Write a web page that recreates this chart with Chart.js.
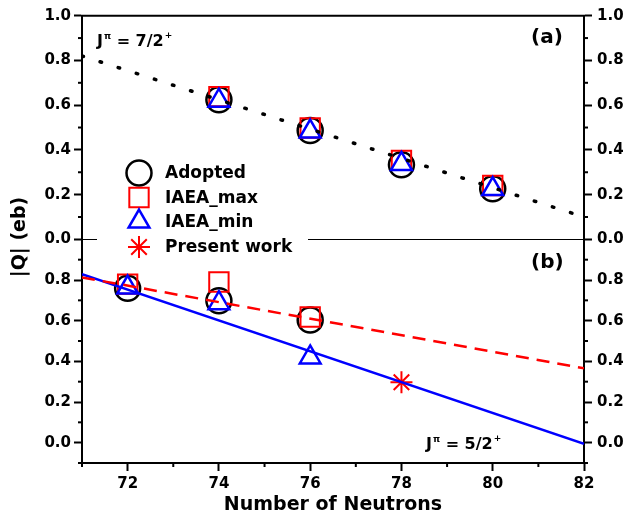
<!DOCTYPE html>
<html><head><meta charset="utf-8">
<script src="https://cdn.jsdelivr.net/npm/chart.js@4.4.0/dist/chart.umd.min.js"></script>
<style>html,body{margin:0;padding:0;background:#fff}#wrap{width:627px;height:519px;position:relative}</style>
</head><body><div id="wrap"><canvas id="c" width="627" height="519"></canvas></div>
<script>
// ---- axis tick labels ----
const neutronTicks = [72, 74, 76, 78, 80, 82];
const yTicksA = [0.0, 0.2, 0.4, 0.6, 0.8, 1.0];
const yTicksB = [0.0, 0.2, 0.4, 0.6, 0.8];

// ---- panel (a): J = 7/2+ ----
const neutronsA = [74, 76, 78, 80];
const adoptedA = [0.624, 0.487, 0.333, 0.226];
const iaeaMaxA = [0.638, 0.498, 0.353, 0.241];
const iaeaMinA = [0.620, 0.482, 0.337, 0.225];
const trendAx = [71, 82];
const trendAy = [0.82, 0.10];

// ---- panel (b): J = 5/2+ ----
const neutronsB = [72, 74, 76];
const adoptedB = [0.759, 0.698, 0.603];
const iaeaMaxB = [0.780, 0.790, 0.618];
const iaeaMinB = [0.763, 0.686, 0.419];
const presentN = [78];
const presentB = [0.297];
const trendMaxBx = [71, 82];
const trendMaxBy = [0.813, 0.366];
const trendMinBx = [71, 82];
const trendMinBy = [0.829, -0.006];

const FONT = "'DejaVu Sans', sans-serif";
const RED = '#ff0000', BLUE = '#0000ff', BLACK = '#000000';
const pts = (xs, ys) => xs.map((x, i) => ({x: x, y: ys[i]}));

const markerStyles = {
  adopted: {pointStyle: 'circle', pointRadius: 12.5, borderColor: BLACK, pointBorderWidth: 2.5},
  max: {pointStyle: 'rect', pointRadius: 13.7, borderColor: RED, pointBorderWidth: 2},
  min: {pointStyle: 'triangle', pointRadius: 12, borderColor: BLUE, pointBorderWidth: 2.5},
  present: {pointStyle: 'star', pointRadius: 11, borderColor: RED, pointBorderWidth: 2}
};
function markerSet(label, key, data, yAxisID, order) {
  const s = markerStyles[key];
  return Object.assign({label: label, data: data, yAxisID: yAxisID, xAxisID: 'x', showLine: false,
    backgroundColor: 'rgba(0,0,0,0)', pointBackgroundColor: 'rgba(0,0,0,0)', pointBorderColor: s.borderColor,
    order: order, legendKey: key}, s);
}
function lineSet(data, yAxisID, color, width, dash, cap) {
  return {label: 'fit', data: data, yAxisID: yAxisID, xAxisID: 'x', showLine: true, pointRadius: 0,
    borderColor: color, borderWidth: width, borderDash: dash, borderCapStyle: cap || 'butt',
    fill: false, order: 0, tension: 0};
}

const datasets = [
  lineSet(pts(trendAx, trendAy), 'yA', BLACK, 3.5, [1.5, 17.5], 'round'),
  lineSet(pts(trendMaxBx, trendMaxBy), 'yB', RED, 2.5, [13, 8]),
  lineSet(pts(trendMinBx, trendMinBy), 'yB', BLUE, 2.5, []),
  markerSet('Adopted', 'adopted', pts(neutronsA, adoptedA), 'yA', 4),
  markerSet('IAEA_max', 'max', pts(neutronsA, iaeaMaxA), 'yA', 3),
  markerSet('IAEA_min', 'min', pts(neutronsA, iaeaMinA), 'yA', 2),
  markerSet('Adopted', 'adopted', pts(neutronsB, adoptedB), 'yB', 4),
  markerSet('IAEA_max', 'max', pts(neutronsB, iaeaMaxB), 'yB', 3),
  markerSet('IAEA_min', 'min', pts(neutronsB, iaeaMinB), 'yB', 2),
  markerSet('Present work', 'present', pts(presentN, presentB), 'yB', 1)
];

const tickFont = {family: FONT, size: 15, weight: 'bold'};
function yScale(pos, stack, weight, min, max, tickVals, showLabels) {
  return {
    type: 'linear', position: pos, stack: stack, stackWeight: 1, weight: weight,
    min: min, max: max,
    afterBuildTicks: s => { s.ticks = tickVals.map(v => ({value: v})); },
    afterFit: s => { s.width = pos === 'left' ? 82 : 43; },
    ticks: {font: tickFont, color: BLACK, padding: pos === 'left' ? 3 : 5, autoSkip: false,
      callback: v => v.toFixed(1)},
    grid: {display: true, drawOnChartArea: false, drawTicks: true, tickLength: 8, tickWidth: 2, tickColor: BLACK},
    border: {display: true, color: BLACK, width: 2}
  };
}

function midTicks(vals, min, max) {
  const out = [];
  for (let i = 0; i < vals.length - 1; i++) out.push((vals[i] + vals[i + 1]) / 2);
  const step = vals[1] - vals[0];
  const lo = vals[0] - step / 2, hi = vals[vals.length - 1] + step / 2;
  if (lo >= min - 1e-9) out.push(lo);
  if (hi <= max + 1e-9) out.push(hi);
  return out;
}

function drawJ(ctx, x, y, frac) {
  ctx.fillStyle = BLACK;
  ctx.textAlign = 'left';
  ctx.textBaseline = 'alphabetic';
  ctx.font = 'bold 16px ' + FONT;
  ctx.fillText('J', x, y);
  let cx = x + ctx.measureText('J').width + 1;
  ctx.font = 'bold 9px ' + FONT;
  ctx.fillText('\u03c0', cx, y - 7);
  cx += ctx.measureText('\u03c0').width;
  ctx.font = 'bold 16px ' + FONT;
  const t = ' = ' + frac;
  ctx.fillText(t, cx, y);
  cx += ctx.measureText(t).width + 1;
  ctx.font = 'bold 9px ' + FONT;
  ctx.fillText('+', cx, y - 8);
}

const decor = {
  id: 'decor',
  beforeDatasetsDraw(chart) {
    const ctx = chart.ctx, a = chart.chartArea;
    const yA = chart.scales.yA;
    ctx.save();
    ctx.strokeStyle = BLACK;
    ctx.lineWidth = 1.2;
    const y0 = Math.round(yA.getPixelForValue(0)) + 0.5;
    ctx.beginPath(); ctx.moveTo(a.left, y0); ctx.lineTo(a.right, y0); ctx.stroke();
    // white legend background interrupts the zero line
    ctx.fillStyle = '#ffffff';
    ctx.fillRect(97, y0 - 3, 211, 6);
    // top frame
    ctx.lineWidth = 2;
    ctx.beginPath(); ctx.moveTo(a.left - 1, a.top); ctx.lineTo(a.right + 1, a.top); ctx.stroke();
    ctx.restore();
  },
  afterDraw(chart) {
    const ctx = chart.ctx;
    ctx.save();
    ctx.strokeStyle = BLACK;
    ctx.lineWidth = 2;
    // minor ticks
    const yDefs = [['yA', yTicksA, -1], ['yB', yTicksB, -1], ['rA', yTicksA, 1], ['rB', yTicksB, 1]];
    yDefs.forEach(([id, vals, dir]) => {
      const s = chart.scales[id];
      const xEdge = dir < 0 ? s.right : s.left;
      midTicks(vals, s.min, s.max).forEach(v => {
        const py = s.getPixelForValue(v);
        ctx.beginPath(); ctx.moveTo(xEdge, py); ctx.lineTo(xEdge + dir * 4, py); ctx.stroke();
      });
    });
    const xs = chart.scales.x;
    midTicks(neutronTicks, xs.min, xs.max).forEach(v => {
      const px = xs.getPixelForValue(v);
      ctx.beginPath(); ctx.moveTo(px, xs.top); ctx.lineTo(px, xs.top + 4); ctx.stroke();
    });

    // legend
    const entries = [];
    chart.data.datasets.forEach(d => {
      if (d.legendKey && !entries.find(e => e.label === d.label)) entries.push(d);
    });
    const legendY = [173, 197.5, 221.5, 247];
    entries.forEach((d, i) => {
      const y = legendY[i];
      ctx.strokeStyle = d.pointBorderColor;
      ctx.fillStyle = 'rgba(0,0,0,0)';
      ctx.lineWidth = d.pointBorderWidth;
      Chart.helpers.drawPoint(ctx, {pointStyle: d.pointStyle, radius: d.pointRadius, borderWidth: d.pointBorderWidth, rotation: 0}, 139, y);
      ctx.fillStyle = BLACK;
      ctx.font = 'bold 17px ' + FONT;
      ctx.textAlign = 'left';
      ctx.textBaseline = 'middle';
      ctx.fillText(d.label, 165, y + 1);
    });

    // panel annotations
    drawJ(ctx, 97, 46, '7/2');
    drawJ(ctx, 426, 449, '5/2');
    ctx.fillStyle = BLACK;
    ctx.font = 'bold 20px ' + FONT;
    ctx.textAlign = 'left';
    ctx.textBaseline = 'middle';
    ctx.fillText('(a)', 531, 38);
    ctx.fillText('(b)', 531, 263);

    // y title
    ctx.save();
    ctx.translate(20, 237);
    ctx.rotate(-Math.PI / 2);
    ctx.font = 'bold 19px ' + FONT;
    ctx.textAlign = 'center';
    ctx.textBaseline = 'middle';
    ctx.fillText('|Q| (eb)', 0, 0);
    ctx.restore();
    ctx.restore();
  }
};

new Chart(document.getElementById('c'), {
  type: 'scatter',
  data: {datasets: datasets},
  options: {
    responsive: false, animation: false, events: [],
    layout: {padding: {top: 15, left: 0, right: 0, bottom: 0}},
    plugins: {legend: {display: false}, tooltip: {enabled: false}},
    scales: {
      x: {
        type: 'linear', position: 'bottom', min: 71, max: 82,
        afterBuildTicks: s => { s.ticks = neutronTicks.map(v => ({value: v})); },
        afterFit: s => { s.height = 56; },
        ticks: {font: tickFont, color: BLACK, padding: 4, autoSkip: false, maxRotation: 0, callback: v => String(v)},
        grid: {display: true, drawOnChartArea: false, drawTicks: true, tickLength: 8, tickWidth: 2, tickColor: BLACK},
        border: {display: true, color: BLACK, width: 2},
        title: {display: true, text: 'Number of Neutrons', color: BLACK,
          font: {family: FONT, size: 19, weight: 'bold'}, padding: {top: 0, bottom: 3}}
      },
      yA: yScale('left', 'L', 1, 0, 1.0, yTicksA),
      yB: yScale('left', 'L', 0, -0.1, 1.0, yTicksB),
      rA: yScale('right', 'R', 0, 0, 1.0, yTicksA),
      rB: yScale('right', 'R', 1, -0.1, 1.0, yTicksB)
    }
  },
  plugins: [decor]
});
</script>
</body></html>
